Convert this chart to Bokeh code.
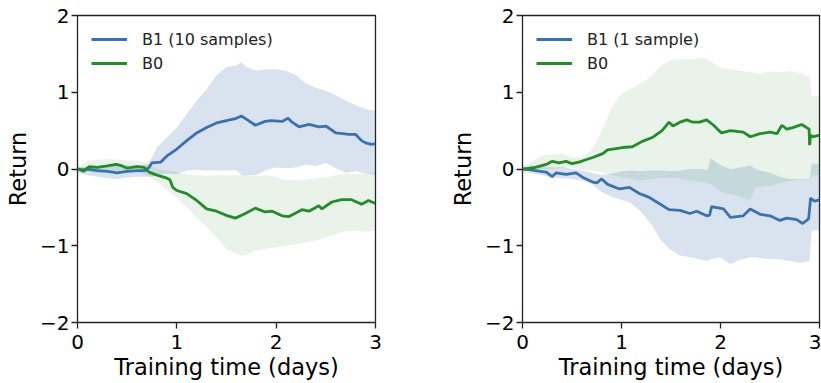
from bokeh.plotting import figure
from bokeh.layouts import row
from bokeh.models import Range1d, FixedTicker
from bokeh.embed import file_html
from bokeh.resources import INLINE

# ---------------- data: left panel (B1 10 samples vs B0) ----------------
left_b1_days = [0, 0.05, 0.1, 0.2, 0.3, 0.4, 0.5, 0.6, 0.68, 0.72, 0.75, 0.84, 0.9, 1.0, 1.1, 1.2,
                1.3, 1.4, 1.5, 1.6, 1.65, 1.7, 1.79, 1.89, 1.95, 2.06, 2.12, 2.16, 2.23, 2.33, 2.43,
                2.5, 2.6, 2.67, 2.73, 2.8, 2.86, 2.9, 2.96, 3.0]
left_b1_mean = [0, -0.01, 0.0, -0.02, -0.03, -0.05, -0.03, -0.02, -0.02, 0.02, 0.08, 0.09, 0.17, 0.26,
                0.37, 0.47, 0.54, 0.6, 0.63, 0.66, 0.69, 0.65, 0.57, 0.62, 0.63, 0.62, 0.66, 0.61, 0.55,
                0.58, 0.55, 0.56, 0.47, 0.46, 0.45, 0.45, 0.37, 0.34, 0.32, 0.33]

left_b0_days = [0, 0.03, 0.06, 0.12, 0.2, 0.3, 0.39, 0.45, 0.5, 0.6, 0.67, 0.72, 0.8, 0.9, 0.93, 0.96,
                1.0, 1.1, 1.2, 1.3, 1.4, 1.49, 1.59, 1.69, 1.79, 1.89, 1.96, 2.06, 2.13, 2.26, 2.33,
                2.43, 2.46, 2.56, 2.66, 2.76, 2.86, 2.93, 3.0]
left_b0_mean = [0, -0.01, -0.03, 0.03, 0.02, 0.04, 0.06, 0.04, 0.01, 0.03, 0.02, -0.04, -0.08, -0.12,
                -0.14, -0.24, -0.28, -0.32, -0.41, -0.52, -0.55, -0.6, -0.64, -0.58, -0.51, -0.56,
                -0.55, -0.61, -0.62, -0.53, -0.55, -0.48, -0.52, -0.43, -0.4, -0.4, -0.46, -0.41, -0.45]

left_band_days = [0, 0.1, 0.2, 0.3, 0.4, 0.5, 0.6, 0.7, 0.75, 0.8, 0.9, 1.0, 1.1, 1.2, 1.3, 1.4, 1.5,
                  1.6, 1.65, 1.7, 1.8, 1.9, 2.0, 2.1, 2.2, 2.3, 2.4, 2.5, 2.6, 2.7, 2.8, 2.9, 3.0]
left_b1_upper = [0.02, 0.04, 0.04, 0.05, 0.04, 0.05, 0.05, 0.06, 0.15, 0.28, 0.41, 0.54, 0.72, 0.89,
                 1.04, 1.22, 1.33, 1.35, 1.39, 1.33, 1.28, 1.3, 1.3, 1.28, 1.22, 1.11, 1.06, 1.02, 0.96,
                 0.89, 0.83, 0.78, 0.76]
left_b1_lower = [-0.04, -0.08, -0.1, -0.12, -0.13, -0.11, -0.1, -0.1, -0.1, -0.08, -0.06, -0.07, -0.02,
                 -0.01, -0.02, -0.02, -0.02, -0.01, -0.08, -0.08, -0.08, -0.01, 0.02, 0.01, 0.02, 0.06,
                 0.04, 0.08, 0.01, -0.05, -0.03, -0.06, -0.08]
left_b0_upper = [0.03, 0.1, 0.12, 0.13, 0.12, 0.11, 0.11, 0.08, 0.03, 0.0, -0.02, -0.04, -0.07, -0.08,
                 -0.09, -0.08, -0.08, -0.08, -0.08, -0.08, -0.09, -0.08, -0.1, -0.15, -0.14, -0.14,
                 -0.12, -0.11, -0.08, -0.06, -0.07, -0.06, -0.06]
left_b0_lower = [-0.03, -0.04, -0.05, -0.04, -0.04, -0.05, -0.05, -0.08, -0.12, -0.17, -0.27, -0.37,
                 -0.5, -0.63, -0.76, -0.89, -1.05, -1.1, -1.13, -1.12, -1.06, -1.04, -1.02, -1.0, -0.98,
                 -0.95, -0.93, -0.89, -0.85, -0.81, -0.8, -0.82, -0.8]

# ---------------- data: right panel (B1 1 sample vs B0) ----------------
right_b0_days = [0, 0.03, 0.13, 0.24, 0.3, 0.37, 0.44, 0.5, 0.57, 0.64, 0.71, 0.81, 0.86, 1.01, 1.11,
                 1.21, 1.31, 1.41, 1.48, 1.52, 1.59, 1.66, 1.72, 1.79, 1.86, 1.93, 2.01, 2.1, 2.23,
                 2.3, 2.4, 2.5, 2.57, 2.62, 2.67, 2.73, 2.82, 2.895, 2.9, 2.91, 2.93, 3.0]
right_b0_mean = [0, 0.0, 0.02, 0.06, 0.1, 0.08, 0.1, 0.07, 0.09, 0.12, 0.15, 0.2, 0.25, 0.28, 0.29,
                 0.36, 0.41, 0.5, 0.61, 0.56, 0.61, 0.64, 0.61, 0.61, 0.64, 0.57, 0.47, 0.5, 0.48,
                 0.42, 0.46, 0.48, 0.46, 0.57, 0.52, 0.54, 0.58, 0.52, 0.31, 0.44, 0.42, 0.44]

right_b1_days = [0, 0.03, 0.13, 0.24, 0.3, 0.34, 0.44, 0.54, 0.61, 0.71, 0.75, 0.8, 0.86, 0.98, 1.08,
                 1.18, 1.28, 1.38, 1.48, 1.59, 1.69, 1.76, 1.86, 1.89, 1.91, 2.03, 2.1, 2.23, 2.3, 2.4,
                 2.5, 2.6, 2.67, 2.77, 2.83, 2.89, 2.91, 2.95, 3.0]
right_b1_mean = [0, 0.0, -0.02, -0.04, -0.1, -0.05, -0.07, -0.05, -0.11, -0.17, -0.18, -0.13, -0.2,
                 -0.26, -0.24, -0.32, -0.37, -0.45, -0.53, -0.54, -0.58, -0.55, -0.61, -0.6, -0.49,
                 -0.52, -0.63, -0.61, -0.52, -0.59, -0.61, -0.67, -0.64, -0.66, -0.71, -0.65, -0.38,
                 -0.42, -0.40]

right_band_days = [0, 0.1, 0.2, 0.3, 0.4, 0.5, 0.6, 0.7, 0.8, 0.9, 1.0, 1.1, 1.2, 1.3, 1.4, 1.5, 1.6,
                   1.7, 1.8, 1.87, 1.9, 2.0, 2.1, 2.2, 2.3, 2.35, 2.4, 2.5, 2.6, 2.7, 2.8, 2.9, 2.92, 3.0]
right_b0_upper = [0.02, 0.1, 0.18, 0.19, 0.2, 0.15, 0.15, 0.25, 0.5, 0.8, 0.98, 1.05, 1.12, 1.2, 1.35,
                  1.42, 1.43, 1.43, 1.45, 1.43, 1.4, 1.32, 1.3, 1.28, 1.26, 1.25, 1.24, 1.27, 1.26,
                  1.28, 1.25, 1.2, 0.95, 0.95]
right_b0_lower = [-0.02, -0.02, 0.0, 0.0, 0.02, 0.02, -0.01, -0.02, -0.04, -0.08, -0.11, -0.13, -0.15,
                  -0.13, -0.12, -0.11, -0.13, -0.15, -0.17, -0.19, -0.2, -0.3, -0.33, -0.36, -0.41,
                  -0.24, -0.23, -0.22, -0.18, -0.16, -0.14, -0.14, -0.08, -0.08]
right_b1_upper = [0.02, 0.05, 0.03, 0.02, 0.03, 0.0, -0.02, -0.05, -0.08, -0.06, -0.03, -0.02, -0.03,
                  -0.02, -0.02, -0.03, -0.02, 0.0, 0.0, -0.01, 0.14, 0.05, 0.0, 0.02, 0.05, 0.0, -0.02,
                  -0.05, -0.1, -0.13, -0.13, -0.13, 0.07, 0.07]
right_b1_lower = [-0.03, -0.06, -0.08, -0.11, -0.12, -0.13, -0.15, -0.2, -0.3, -0.36, -0.4, -0.45,
                  -0.56, -0.72, -0.93, -1.06, -1.13, -1.15, -1.18, -1.2, -1.17, -1.15, -1.24, -1.18,
                  -1.15, -1.15, -1.16, -1.17, -1.18, -1.2, -1.22, -1.2, -0.8, -0.8]

x_ticks = [0, 1, 2, 3]
y_ticks = [-2, -1, 0, 1, 2]
y_tick_labels = {-2: "\u22122", -1: "\u22121", 0: "0", 1: "1", 2: "2"}
x_label = "Training time (days)"
y_label = "Return"

BLUE = "#3b72ae"
GREEN = "#238b2a"
FONT = "DejaVu Sans"


def make_panel(width, border_left, border_right, band_days, b1_lo, b1_hi, b0_lo, b0_hi,
               b1_days, b1_mean, b0_days, b0_mean, b1_name):
    p = figure(width=width, height=383, output_backend="svg", toolbar_location=None,
               x_range=Range1d(0, 3), y_range=Range1d(-2, 2),
               min_border_left=border_left, min_border_right=border_right,
               min_border_top=15, min_border_bottom=61)
    p.background_fill_color = "white"
    p.border_fill_color = "white"
    p.outline_line_color = "#222222"
    p.outline_line_width = 1.3
    p.grid.visible = False

    p.varea(x=band_days, y1=b1_lo, y2=b1_hi, fill_color=BLUE, fill_alpha=0.2)
    p.varea(x=band_days, y1=b0_lo, y2=b0_hi, fill_color=GREEN, fill_alpha=0.1)
    p.line(b1_days, b1_mean, line_color=BLUE, line_width=2.8, legend_label=b1_name)
    p.line(b0_days, b0_mean, line_color=GREEN, line_width=2.8, legend_label="B0")

    p.xaxis.ticker = FixedTicker(ticks=x_ticks)
    p.yaxis.ticker = FixedTicker(ticks=y_ticks)
    p.yaxis.major_label_overrides = y_tick_labels
    p.xaxis.axis_label = x_label
    p.yaxis.axis_label = y_label
    for ax in (p.xaxis, p.yaxis):
        ax.axis_line_color = None
        ax.major_tick_line_color = "#222222"
        ax.major_tick_line_width = 1.3
        ax.major_tick_out = 6
        ax.major_tick_in = 0
        ax.minor_tick_line_color = None
        ax.major_label_text_font = FONT
        ax.major_label_text_font_size = "20px"
        ax.major_label_text_color = "black"
        ax.axis_label_text_font = FONT
        ax.axis_label_text_font_size = "22.5px"
        ax.axis_label_text_font_style = "normal"
        ax.axis_label_text_color = "black"
    p.xaxis.major_label_standoff = 6
    p.xaxis.axis_label_standoff = 2
    p.yaxis.major_label_standoff = 2
    p.yaxis.axis_label_standoff = 6

    lg = p.legend[0]
    lg.location = "top_left"
    lg.border_line_color = None
    lg.background_fill_alpha = 0
    lg.label_text_font = FONT
    lg.label_text_font_size = "16px"
    lg.label_text_color = "#222222"
    lg.glyph_width = 36
    lg.glyph_height = 20
    lg.label_height = 20
    lg.label_standoff = 15
    lg.spacing = 4
    lg.margin = 14
    lg.padding = 0
    return p


p1 = make_panel(420, 77, 45, left_band_days, left_b1_lower, left_b1_upper, left_b0_lower,
                left_b0_upper, left_b1_days, left_b1_mean, left_b0_days, left_b0_mean,
                "B1 (10 samples)")
p2 = make_panel(401, 102, 2, right_band_days, right_b1_lower, right_b1_upper, right_b0_lower,
                right_b0_upper, right_b1_days, right_b1_mean, right_b0_days, right_b0_mean,
                "B1 (1 sample)")

layout = row(p1, p2, spacing=0)
open("out.html", "w").write(file_html(layout, INLINE))
